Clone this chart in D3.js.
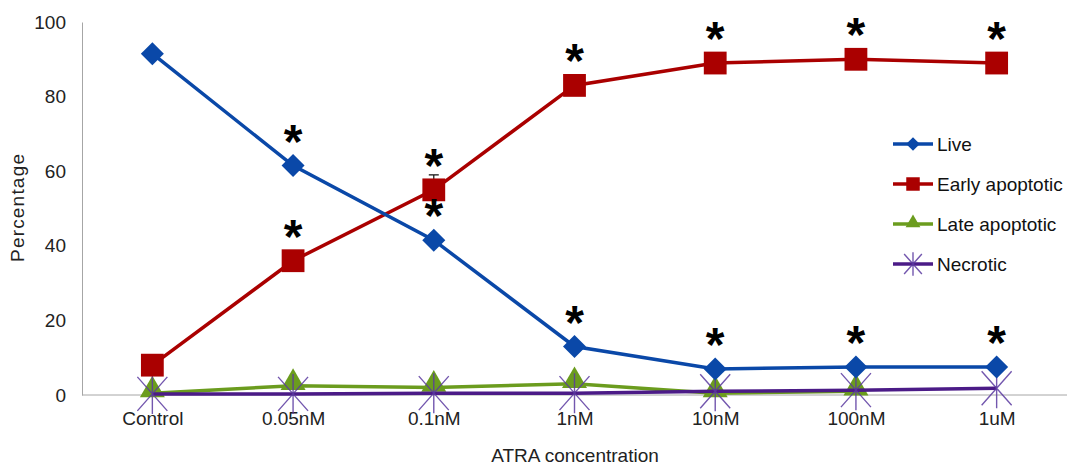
<!DOCTYPE html>
<html>
<head>
<meta charset="utf-8">
<script src="https://cdnjs.cloudflare.com/ajax/libs/d3/7.8.5/d3.min.js"></script>
<style>
  body { margin: 0; background: #fff; }
  text { font-family: "Liberation Sans", Arial, sans-serif; }
</style>
</head>
<body>
<script>
// data
var categories = ["Control", "0.05nM", "0.1nM", "1nM", "10nM", "100nM", "1uM"];
var liveVals   = [91.5, 61.5, 41.5, 13, 7, 7.5, 7.5];
var earlyVals  = [8, 36, 55, 83, 89, 90, 89];
var lateVals   = [0.5, 2.5, 2, 3, 0.5, 1, null];
var necroVals  = [0.3, 0.3, 0.5, 0.5, 1, 1.3, 1.8];
var earlyErr   = [0, 0, 4, 0, 0, 0, 0];
// significance stars: true where the figure marks "*"
var liveStar   = [false, true, true, true, true, true, true];
var earlyStar  = [false, true, true, true, true, true, true];
var yTicks     = [0, 20, 40, 60, 80, 100];

var width = 1068, height = 469;
var svg = d3.select("body").append("svg")
    .attr("width", width)
    .attr("height", height);

var x = d3.scalePoint().domain(categories).range([82, 1067]).padding(0.5);
var y = d3.scaleLinear().domain([0, 100]).range([395, 22]);

// axes
var yAxis = svg.append("g")
    .attr("transform", "translate(82,0)")
    .call(d3.axisLeft(y).tickValues(yTicks).tickSize(0).tickPadding(16));
yAxis.select(".domain").attr("stroke", "#a6a6a6");
yAxis.selectAll("text").attr("font-size", 19).attr("fill", "#222");

var xAxis = svg.append("g")
    .attr("transform", "translate(0,395)")
    .call(d3.axisBottom(x).tickSize(0).tickPadding(17));
xAxis.select(".domain").attr("stroke", "#a6a6a6").attr("d", "M82,0H1067");
xAxis.selectAll("text").attr("font-size", 19).attr("fill", "#222");

svg.append("text")
    .attr("transform", "translate(24,208) rotate(-90)")
    .attr("text-anchor", "middle")
    .attr("font-size", 19).attr("fill", "#222")
    .attr("textLength", 108)
    .text("Percentage");

svg.append("text")
    .attr("x", 575).attr("y", 462)
    .attr("text-anchor", "middle")
    .attr("font-size", 19).attr("fill", "#222")
    .text("ATRA concentration");

var series = [
    {name: "Live", values: liveVals, color: "#0a48a8", shape: "diamond", size: 265},
    {name: "Early apoptotic", values: earlyVals, color: "#aa0000", shape: d3.symbolSquare, size: 520},
    {name: "Late apoptotic", values: lateVals, color: "#6b9c1e", shape: d3.symbolTriangle, size: 270},
    {name: "Necrotic", values: necroVals, color: "#4b1b87", shape: null, size: 0}
];

var line = d3.line()
    .defined(function(d) { return d != null; })
    .x(function(d, i) { return x(categories[i]); })
    .y(function(d) { return y(d); });

function marker(g, s, cx, cy, k) {
    if (s.shape === "diamond") {
        g.append("path")
            .attr("transform", "translate(" + cx + "," + cy + ") rotate(45)")
            .attr("d", d3.symbol().type(d3.symbolSquare).size(s.size * k)())
            .attr("fill", s.color);
    } else if (s.shape) {
        g.append("path")
            .attr("transform", "translate(" + cx + "," + (s.shape === d3.symbolTriangle ? cy - 3 * k : cy) + ")")
            .attr("d", d3.symbol().type(s.shape).size(s.size * k)())
            .attr("fill", s.color);
    } else {
        var dx = 15 * Math.sqrt(k), dy = 17 * Math.sqrt(k), v = 20 * Math.sqrt(k);
        g.append("path")
            .attr("d", "M" + (cx - dx) + "," + (cy - dy) + "L" + (cx + dx) + "," + (cy + dy) +
                       "M" + (cx + dx) + "," + (cy - dy) + "L" + (cx - dx) + "," + (cy + dy) +
                       "M" + cx + "," + (cy - v) + "V" + (cy + v))
            .attr("stroke", "#5b3aa0").attr("stroke-width", 1.4)
            .attr("fill", "none").attr("opacity", 0.85);
    }
}

// error bar
earlyErr.forEach(function(e, i) {
    if (!e) return;
    var cx = x(categories[i]);
    svg.append("path")
        .attr("d", "M" + cx + "," + y(earlyVals[i]) + "V" + y(earlyVals[i] + e) +
              "M" + (cx - 5) + "," + y(earlyVals[i] + e) + "H" + (cx + 5))
        .attr("stroke", "#111").attr("stroke-width", 1.2).attr("fill", "none");
});

var order = [2, 3, 1, 0];
order.forEach(function(si) {
    var s = series[si];
    var g = svg.append("g");
    g.append("path")
        .datum(s.values)
        .attr("d", line)
        .attr("fill", "none")
        .attr("stroke", s.color)
        .attr("stroke-width", 3.5);
    s.values.forEach(function(v, i) {
        if (v == null) return;
        marker(g, s, x(categories[i]), y(v), 1);
    });
});

// significance stars
function stars(vals, flags) {
    vals.forEach(function(v, i) {
        if (!flags[i]) return;
        svg.append("text")
            .attr("x", x(categories[i]))
            .attr("y", y(v) - 8)
            .attr("text-anchor", "middle")
            .attr("font-size", 48)
            .attr("font-weight", "bold")
            .attr("font-family", "Liberation Sans, sans-serif")
            .attr("fill", "#000")
            .text("*");
    });
}
stars(liveVals, liveStar);
stars(earlyVals, earlyStar);

// legend
var legend = svg.append("g").attr("transform", "translate(893,144)");
series.forEach(function(s, i) {
    var row = legend.append("g").attr("transform", "translate(0," + (i * 40) + ")");
    row.append("line").attr("x1", 0).attr("x2", 40).attr("y1", 0).attr("y2", 0)
        .attr("stroke", s.color).attr("stroke-width", 3.5);
    marker(row, s, 20, 0, 0.35);
    row.append("text").attr("x", 44).attr("y", 7)
        .attr("font-size", 19).attr("fill", "#111")
        .text(s.name);
});
</script>
</body>
</html>
